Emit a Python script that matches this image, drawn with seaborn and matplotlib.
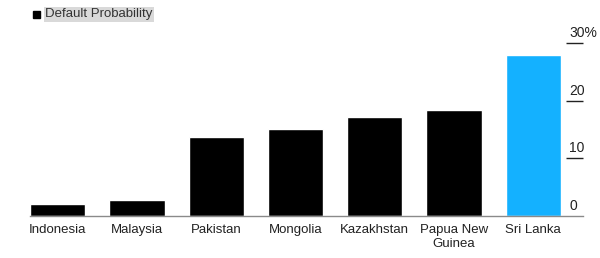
import matplotlib
matplotlib.use("Agg")
import matplotlib.pyplot as plt
import matplotlib.transforms as mtransforms
import seaborn as sns
import pandas as pd

countries = ["Indonesia", "Malaysia", "Pakistan", "Mongolia", "Kazakhstan", "Papua New\nGuinea", "Sri Lanka"]
probability = [2.0, 2.7, 13.7, 15.1, 17.2, 18.3, 28.0]
bar_colors = ["#000000"] * 6 + ["#14b1ff"]
ytick_values = [0, 10, 20, 30]
ytick_labels = ["0", "10", "20", "30%"]
legend_label = "Default Probability"

sns.set_theme(style="white")
plt.rcParams["font.family"] = ["Liberation Sans", "DejaVu Sans"]

df = pd.DataFrame({"country": countries, "prob": probability})

fig = plt.figure(figsize=(6.0, 2.58), dpi=100)
ax = fig.add_axes([0.05, 0.164, 0.922, 0.669])

sns.barplot(data=df, x="country", y="prob", hue="country",
            palette=dict(zip(countries, bar_colors)), width=0.70,
            saturation=1, legend=False, ax=ax)

ax.set_xlim(-0.35, 6.63)
ax.set_ylim(0, 30)
ax.set_xlabel("")
ax.set_ylabel("")

for s in ["top", "left", "right"]:
    ax.spines[s].set_visible(False)
ax.spines["bottom"].set_color("#8a8a8a")
ax.spines["bottom"].set_linewidth(1.0)

ax.tick_params(axis="x", length=0, pad=6, labelsize=9.5, labelcolor="#222222")
ax.yaxis.tick_right()
ax.set_yticks([v for v in ytick_values if v > 0])
ax.tick_params(axis="y", direction="in", length=12.5, width=1.0, color="#222222",
               labelright=False, labelleft=False)

trans = mtransforms.blended_transform_factory(ax.transAxes, ax.transData)
offset = mtransforms.ScaledTranslation(-14 / 100, 3 / 100, fig.dpi_scale_trans)
for v, lab in zip(ytick_values, ytick_labels):
    ax.text(1.0, v, lab, transform=trans + offset, ha="left", va="bottom",
            fontsize=10, color="#222222")

# legend-like header
fig.patches.append(plt.Rectangle((33 / 600, 1 - 18 / 258), 7 / 600, 7 / 258,
                                 transform=fig.transFigure, color="#000000"))
fig.text(45 / 600, 1 - 14.5 / 258, legend_label, ha="left", va="center",
         fontsize=9.5, color="#333333",
         bbox=dict(boxstyle="square,pad=0.1", facecolor="#d9d9d9", edgecolor="none"))

fig.savefig("out.png", dpi=100)
